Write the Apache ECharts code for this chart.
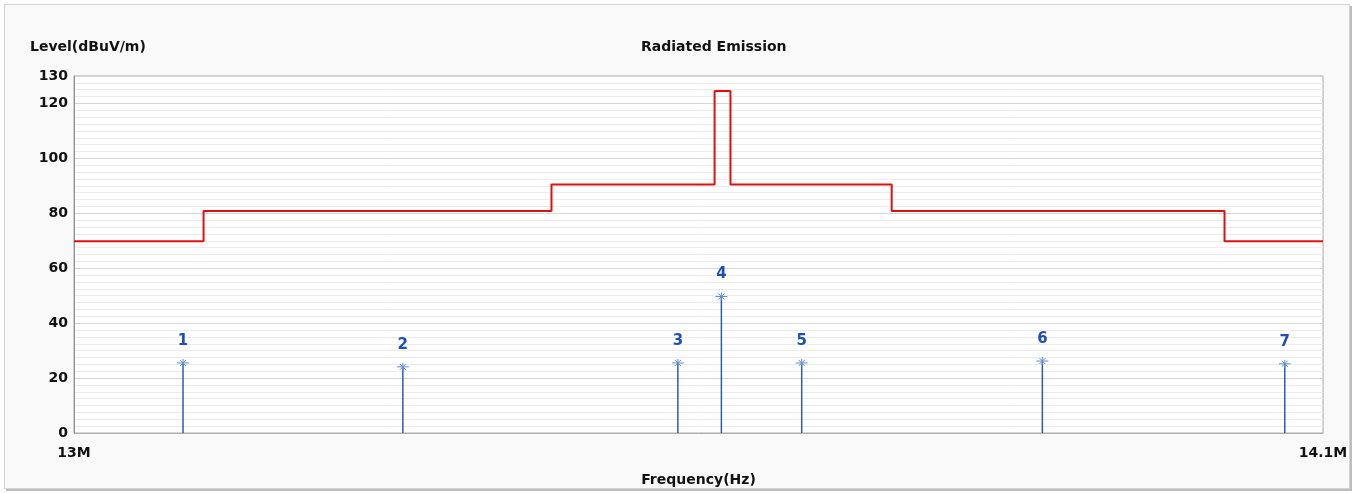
<!DOCTYPE html>
<html>
<head>
<meta charset="utf-8">
<script src="https://cdn.jsdelivr.net/npm/echarts@6/dist/echarts.min.js"></script>
<style>
html,body{margin:0;padding:0;background:#fff;}
#frame{position:absolute;left:4px;top:4px;width:1344px;height:483px;background:#f9f9f9;border:1px solid #d4d4d4;box-shadow:2px 2px 0 #bdbdbd;}
#chart{position:absolute;left:0;top:0;width:1357px;height:493px;}
</style>
</head>
<body>
<div id="frame"></div>
<div id="chart"></div>
<script>
// Limit line (frequency in MHz, level in dBuV/m)
var limitFreq  = [13.0, 13.11, 13.11, 13.41, 13.41, 13.553, 13.553, 13.567, 13.567, 13.71, 13.71, 14.01, 14.01, 14.1];
var limitLevel = [69.8, 69.8, 80.8, 80.8, 90.5, 90.5, 124.5, 124.5, 90.5, 90.5, 80.8, 80.8, 69.8, 69.8];
// Measured peaks
var peakLabels = ['1', '2', '3', '4', '5', '6', '7'];
var peakFreq   = [13.0925, 13.281, 13.5207, 13.559, 13.630, 13.845, 14.065];
var peakLevel  = [25.5, 24.1, 25.5, 49.7, 25.5, 26.2, 25.2];
// Axis
var xMin = 13.0, xMax = 14.1;
var yTickLabels = ['0', '20', '40', '60', '80', '100', '120', '130'];

var chart = echarts.init(document.getElementById('chart'));
var font = '"DejaVu Sans", Tahoma, sans-serif';

var limitData = limitFreq.map(function (f, i) { return [f, limitLevel[i]]; });
var peakData = peakFreq.map(function (f, i) { return [f, peakLevel[i], peakLabels[i]]; });

function renderPeak(params, api) {
  var base = api.coord([api.value(0), 0]);
  var top = api.coord([api.value(0), api.value(1)]);
  var x = top[0], y = top[1];
  var starColor = '#5f8fd6';
  return {
    type: 'group',
    children: [
      { type: 'line', shape: { x1: x, y1: base[1], x2: x, y2: y }, style: { stroke: '#2b5cb0', lineWidth: 1.5 } },
      { type: 'line', shape: { x1: x - 6, y1: y, x2: x + 6, y2: y }, style: { stroke: starColor, lineWidth: 1 } },
      { type: 'line', shape: { x1: x, y1: y - 4, x2: x, y2: y + 4 }, style: { stroke: starColor, lineWidth: 1 } },
      { type: 'line', shape: { x1: x - 3, y1: y - 3, x2: x + 3, y2: y + 3 }, style: { stroke: starColor, lineWidth: 1 } },
      { type: 'line', shape: { x1: x - 3, y1: y + 3, x2: x + 3, y2: y - 3 }, style: { stroke: starColor, lineWidth: 1 } },
      { type: 'text', style: { text: api.value(2), x: x, y: y - 22, align: 'center', verticalAlign: 'middle',
          fill: '#1f4fb8', font: 'bold 15px ' + font } }
    ]
  };
}

chart.setOption({
  backgroundColor: 'transparent',
  animation: false,
  title: [
    { text: 'Level(dBuV/m)', left: 30, top: 40, padding: 0, textStyle: { fontFamily: font, fontSize: 14, fontWeight: 'bold', color: '#111' } },
    { text: 'Radiated Emission', left: 641, top: 40, padding: 0, textStyle: { fontFamily: font, fontSize: 14, fontWeight: 'bold', color: '#111' } }
  ],
  grid: { left: 74, right: 34, top: 76, bottom: 60, outerBoundsMode: 'none', containLabel: false,
          show: true, backgroundColor: '#fff', borderColor: '#a8a8a8', borderWidth: 1 },
  xAxis: {
    type: 'log', logBase: 10, min: xMin, max: xMax,
    name: 'Frequency(Hz)', nameLocation: 'middle', nameGap: 40,
    nameTextStyle: { fontFamily: font, fontSize: 14, fontWeight: 'bold', color: '#111' },
    axisLine: { show: true, lineStyle: { color: '#b0b0b0' } },
    axisTick: { show: false },
    splitLine: { show: false },
    axisLabel: {
      showMinLabel: true, showMaxLabel: true, margin: 13,
      fontFamily: font, fontSize: 14, fontWeight: 'bold', color: '#111',
      formatter: function (v) {
        if (Math.abs(v - xMin) < 1e-3) return '13M';
        if (Math.abs(v - xMax) < 1e-3) return '14.1M';
        return '';
      }
    }
  },
  yAxis: [
    {
      type: 'value', position: 'left', min: 0, max: 130, interval: 2.5,
      axisLine: { show: false }, axisTick: { show: false }, axisLabel: { show: false },
      splitLine: { show: true, lineStyle: { color: '#ececec', width: 1 } }
    },
    {
      type: 'value', position: 'left', offset: 0, min: 0, max: 130, interval: 20,
      axisLine: { show: true, lineStyle: { color: '#909090' } },
      axisTick: { show: false },
      axisLabel: {
        margin: 6, fontFamily: font, fontSize: 14, fontWeight: 'bold', color: '#111',
        formatter: function (v) { var s = String(Math.round(v)); return yTickLabels.indexOf(s) >= 0 ? s : ''; }
      },
      splitLine: { show: true, lineStyle: { color: '#d6d6d6', width: 1 } }
    }
  ],
  series: [
    {
      type: 'line', yAxisIndex: 1, data: limitData, symbol: 'none',
      lineStyle: { color: '#e01010', width: 2 }, z: 3
    },
    {
      type: 'custom', yAxisIndex: 1, data: peakData, renderItem: renderPeak, z: 4
    }
  ]
});
</script>
</body>
</html>
